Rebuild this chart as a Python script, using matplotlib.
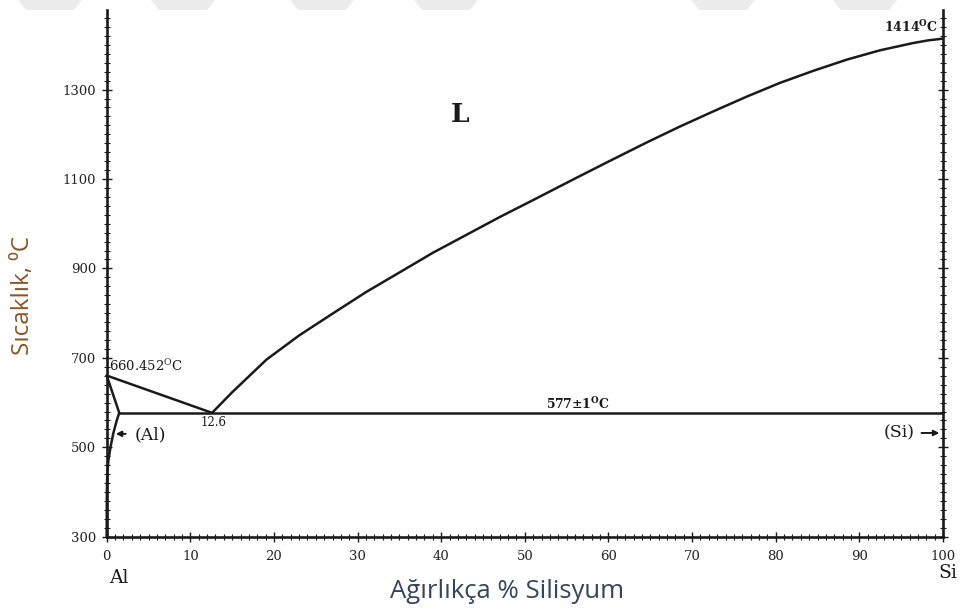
import matplotlib
matplotlib.use("Agg")
import matplotlib.pyplot as plt
from matplotlib.patches import Polygon
from matplotlib.ticker import MultipleLocator

plt.rcParams["mathtext.fontset"] = "dejavuserif"

# ---- data (weight % Si, temperature °C) ----
al_liq_x = [0, 12.6]
al_liq_y = [660.452, 577]
al_sol_x = [0, 1.5]
al_sol_y = [660.452, 577]
solvus_x = [1.5, 1.2, 0.8, 0.45, 0.2, 0.07, 0.02, 0]
solvus_y = [577, 560, 532, 500, 470, 442, 400, 300]
si_liq_x = [12.6, 15, 19.1, 23, 27.1, 31, 35.1, 39, 43, 47, 51, 56.2, 60, 64.6, 68.5,
            72.5, 76.5, 80.5, 84.5, 88.5, 92.5, 96.4, 98.2, 100]
si_liq_y = [577, 623, 696, 750, 800, 847, 892, 935, 975, 1015, 1053, 1103, 1139, 1182, 1217,
            1251, 1284, 1315, 1342, 1367, 1388, 1404, 1410, 1414]
eut_x = [1.5, 100]
eut_y = [577, 577]

x_ticks = [0, 10, 20, 30, 40, 50, 60, 70, 80, 90, 100]
y_ticks = [300, 500, 700, 900, 1100, 1300]

W, H = 968, 608
fig = plt.figure(figsize=(W / 100, H / 100), dpi=100)
ax = fig.add_axes([106.7 / W, 1 - 536.7 / H, (943 - 106.7) / W, (536.7 - 10) / H])

lw = 1.8
col = "#1a1a1a"
for xs, ys in [(al_liq_x, al_liq_y), (al_sol_x, al_sol_y), (solvus_x, solvus_y),
               (si_liq_x, si_liq_y), (eut_x, eut_y)]:
    ax.plot(xs, ys, color=col, lw=lw, solid_capstyle="round", solid_joinstyle="round",
            clip_on=False)

ax.set_xlim(0, 100)
ax.set_ylim(300, 1478)

ax.spines["top"].set_visible(False)
for s in ["left", "bottom", "right"]:
    ax.spines[s].set_linewidth(1.9)
    ax.spines[s].set_color(col)

serif = "DejaVu Serif"
ax.set_xticks(x_ticks)
ax.set_yticks(y_ticks)
ax.xaxis.set_minor_locator(MultipleLocator(1))
ax.yaxis.set_minor_locator(MultipleLocator(20))
ax.tick_params(axis="both", which="major", direction="inout", length=7, width=1, color=col,
               labelsize=9.5, labelcolor="#222222")
ax.tick_params(axis="both", which="minor", direction="inout", length=4, width=0.8, color=col)
ax.tick_params(axis="y", which="both", right=True)
ax.tick_params(axis="y", which="major", pad=4)
ax.tick_params(axis="x", which="major", pad=6)
for lab in ax.get_xticklabels() + ax.get_yticklabels():
    lab.set_fontfamily(serif)

ax.text(0.25, 663, "660.452$^{\\mathrm{O}}$C", family=serif, fontsize=9.5, ha="left",
        va="bottom", color=col)
ax.text(12.8, 571, "12.6", family=serif, fontsize=8.5, ha="center", va="top", color=col)
ax.text(56.4, 580, "577±1$^{\\mathbf{O}}$C", family=serif, fontsize=9, ha="center",
        va="bottom", color=col, fontweight="bold")
ax.text(99.4, 1440, "1414$^{\\mathbf{O}}$C", family=serif, fontsize=9, ha="right",
        va="center", color=col, fontweight="bold")
ax.text(42.3, 1244, "L", family=serif, fontsize=19, ha="center", va="center", color=col,
        fontweight="bold")

# (Al) arrow
ax.annotate("", xy=(0.75, 530), xytext=(2.6, 530),
            arrowprops=dict(arrowstyle="-|>", color=col, lw=1.4, mutation_scale=8))
ax.text(3.3, 527, "(Al)", family=serif, fontsize=12.5, ha="left", va="center", color=col)
# (Si) arrow
ax.annotate("", xy=(99.9, 532), xytext=(97.1, 532),
            arrowprops=dict(arrowstyle="-|>", color=col, lw=1.4, mutation_scale=8))
ax.text(96.6, 532, "(Si)", family=serif, fontsize=12.5, ha="right", va="center", color=col)

ax.text(1.4, 207, "Al", family=serif, fontsize=13.5, ha="center", va="center", color=col,
        clip_on=False)
ax.text(100.6, 218, "Si", family=serif, fontsize=13.5, ha="center", va="center", color=col,
        clip_on=False)

fig.text(507 / W, 1 - 592 / H, "Ağırlıkça % Silisyum", family=["Open Sans", "DejaVu Sans"],
         fontsize=18.5, ha="center", va="center", color="#34455e")
fig.text(23 / W, 1 - 295 / H, "Sıcaklık, ⁰C", family=["Open Sans", "DejaVu Sans"],
         fontsize=17.5, ha="center", va="center", rotation=90, color="#8a5526")

# faint watermark stripes at top
wm_left = [18, 151, 290, 414, 691, 833]
for xl in wm_left:
    pts = [(xl / W, 1.0), ((xl + 64) / W, 1.0), ((xl + 56) / W, 1 - 10 / H),
           ((xl + 8) / W, 1 - 10 / H)]
    fig.patches.append(Polygon(pts, closed=True, transform=fig.transFigure,
                               facecolor="#ececec", edgecolor="none", zorder=0))

fig.savefig("out.png", dpi=100)
